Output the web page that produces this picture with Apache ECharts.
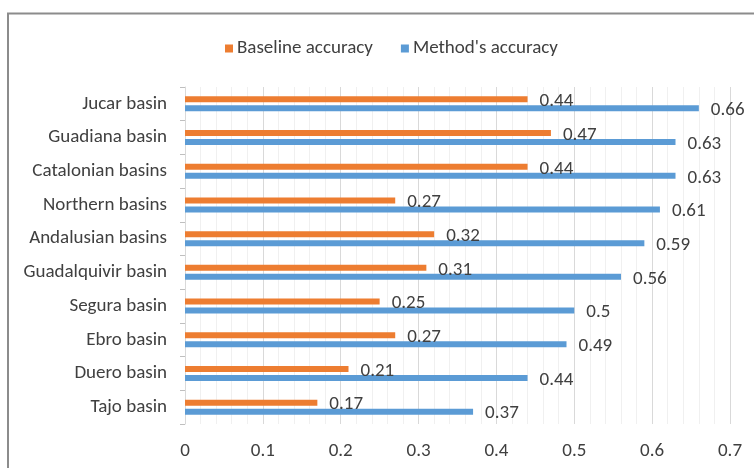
<!DOCTYPE html>
<html>
<head>
<meta charset="utf-8">
<script src="https://cdn.jsdelivr.net/npm/echarts@6/dist/echarts.min.js"></script>
<style>
html,body{margin:0;padding:0;background:#fff;}
#chart{width:754px;height:468px;}
</style>
</head>
<body>
<div id="chart"></div>
<script>
const categories = ["Tajo basin","Duero basin","Ebro basin","Segura basin","Guadalquivir basin","Andalusian basins","Northern basins","Catalonian basins","Guadiana basin","Jucar basin"];
const baselineAccuracy = [0.17,0.21,0.27,0.25,0.31,0.32,0.27,0.44,0.47,0.44];
const methodAccuracy = [0.37,0.44,0.49,0.5,0.56,0.59,0.61,0.63,0.63,0.66];
const seriesNames = ["Baseline accuracy","Method's accuracy"];
const xTicks = {min:0,max:0.7,interval:0.1};

const FONT = "Carlito, Lato, 'Liberation Sans', sans-serif";
const FS = 19;
const chart = echarts.init(document.getElementById('chart'), null, {renderer:'canvas'});
chart.setOption({
  animation:false,
  backgroundColor:'#fff',
  textStyle:{fontFamily:FONT},
  graphic:[{type:'rect',shape:{x:8,y:13.5,width:820,height:520},style:{fill:null,stroke:'#8c8c8c',lineWidth:2},z:100}],
  legend:{
    data:seriesNames,
    top:34,left:220,
    itemWidth:8,itemHeight:8,itemGap:28,
    icon:'rect',
    textStyle:{fontSize:FS,color:'#404040',fontFamily:FONT,padding:[0,0,0,-1]}
  },
  grid:{left:185,right:24,top:87,bottom:44},
  xAxis:{
    type:'value',min:xTicks.min,max:xTicks.max,interval:xTicks.interval,
    axisLine:{show:false},axisTick:{show:false},
    axisLabel:{fontSize:FS,color:'#404040',margin:18,fontFamily:FONT,
      formatter:v=>String(Math.round(v*10)/10)},
    splitLine:{show:true,lineStyle:{color:'#d9d9d9',width:1}},
    minorTick:{show:false,splitNumber:5},
    minorSplitLine:{show:true,lineStyle:{color:'#f0f0f0',width:1}}
  },
  yAxis:{
    type:'category',data:categories,
    axisLine:{show:true,lineStyle:{color:'#d9d9d9'}},
    axisTick:{show:true,length:5,lineStyle:{color:'#bfbfbf'}},
    axisLabel:{fontSize:FS,color:'#404040',margin:18,fontFamily:FONT}
  },
  series:[
    {name:seriesNames[0],type:'bar',data:baselineAccuracy,barWidth:6,barGap:'50%',
     itemStyle:{color:'#ED7D31'},
     label:{show:true,position:'right',distance:12,offset:[0,2],fontSize:FS,color:'#404040',fontFamily:FONT}},
    {name:seriesNames[1],type:'bar',data:methodAccuracy,barWidth:6,barGap:'50%',
     itemStyle:{color:'#5B9BD5'},
     label:{show:true,position:'right',distance:12,offset:[0,2],fontSize:FS,color:'#404040',fontFamily:FONT}}
  ]
});
</script>
</body>
</html>
